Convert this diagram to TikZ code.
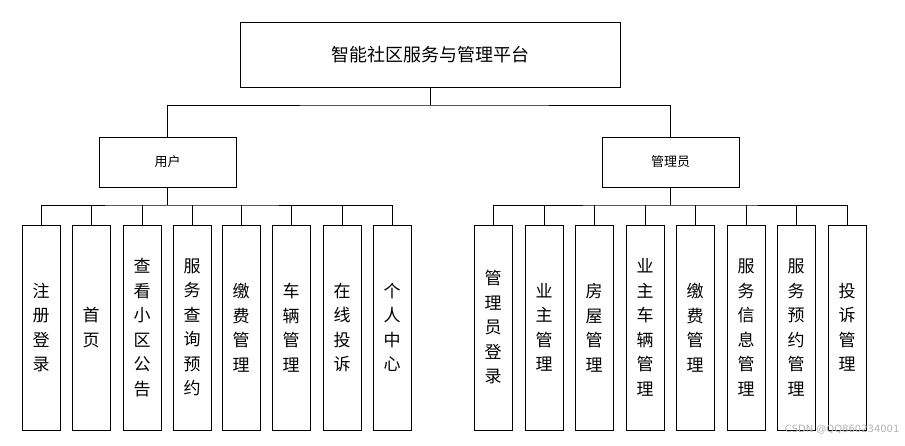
\documentclass[tikz,border=0pt]{standalone}
\usepackage{fontspec}
\newfontfamily\cjk{Noto Sans CJK SC}
\begin{document}
\begin{tikzpicture}[x=1pt,y=-1pt,
  box/.style={draw,line width=0.8pt,inner sep=0pt,font=\cjk},
  leaf/.style={box,minimum width=38pt,minimum height=205pt,align=center,font=\cjk\fontsize{17}{24.5}\selectfont},
  ln/.style={line width=0.8pt}]
\useasboundingbox (0,0) rectangle (905,445);
\node[box,minimum width=380pt,minimum height=65pt,font=\cjk\fontsize{18}{20}\selectfont] (top) at (430,54.5) {智能社区服务与管理平台};
\node[box,minimum width=137pt,minimum height=50pt,font=\cjk\fontsize{13}{15}\selectfont] (u) at (167.5,162) {用户};
\node[box,minimum width=137pt,minimum height=50pt,font=\cjk\fontsize{13}{15}\selectfont] (m) at (670.5,162) {管理员};
\coordinate (j) at (430,105);
\draw[ln] (top.south) -- (j);
\draw[ln] (u.north) |- (j) -| (m.north);
\foreach \n/\x/\t in {a1/41/注\\册\\登\\录, a2/91/首\\页, a3/142/查\\看\\小\\区\\公\\告, a4/192/服\\务\\查\\询\\预\\约, a5/241/缴\\费\\管\\理, a6/291/车\\辆\\管\\理, a7/342/在\\线\\投\\诉, a8/392/个\\人\\中\\心,
  b1/493/管\\理\\员\\登\\录, b2/544/业\\主\\管\\理, b3/594/房\\屋\\管\\理, b4/645/业\\主\\车\\辆\\管\\理, b5/695/缴\\费\\管\\理, b6/746/服\\务\\信\\息\\管\\理, b7/796/服\\务\\预\\约\\管\\理, b8/847/投\\诉\\管\\理}
  {\node[leaf] (\n) at (\x,327.5) {\t};}
\coordinate (ju) at (167.5,205);
\coordinate (jm) at (670.5,205);
\draw[ln] (u.south) -- (ju);
\draw[ln] (m.south) -- (jm);
\draw[ln] (a1.north) |- (ju) -| (a8.north);
\draw[ln] (b1.north) |- (jm) -| (b8.north);
\foreach \n in {a2,a3,a4,a5,a6,a7} {\draw[ln] (\n.north) -- (\n.north |- ju);}
\foreach \n in {b2,b3,b4,b5,b6,b7} {\draw[ln] (\n.north) -- (\n.north |- jm);}
\node[text=gray!60,font=\fontspec{DejaVu Sans}\fontsize{10}{12}\selectfont,anchor=east] (wm) at (903,430) {CSDN @QQ860234001};
\end{tikzpicture}
\end{document}
